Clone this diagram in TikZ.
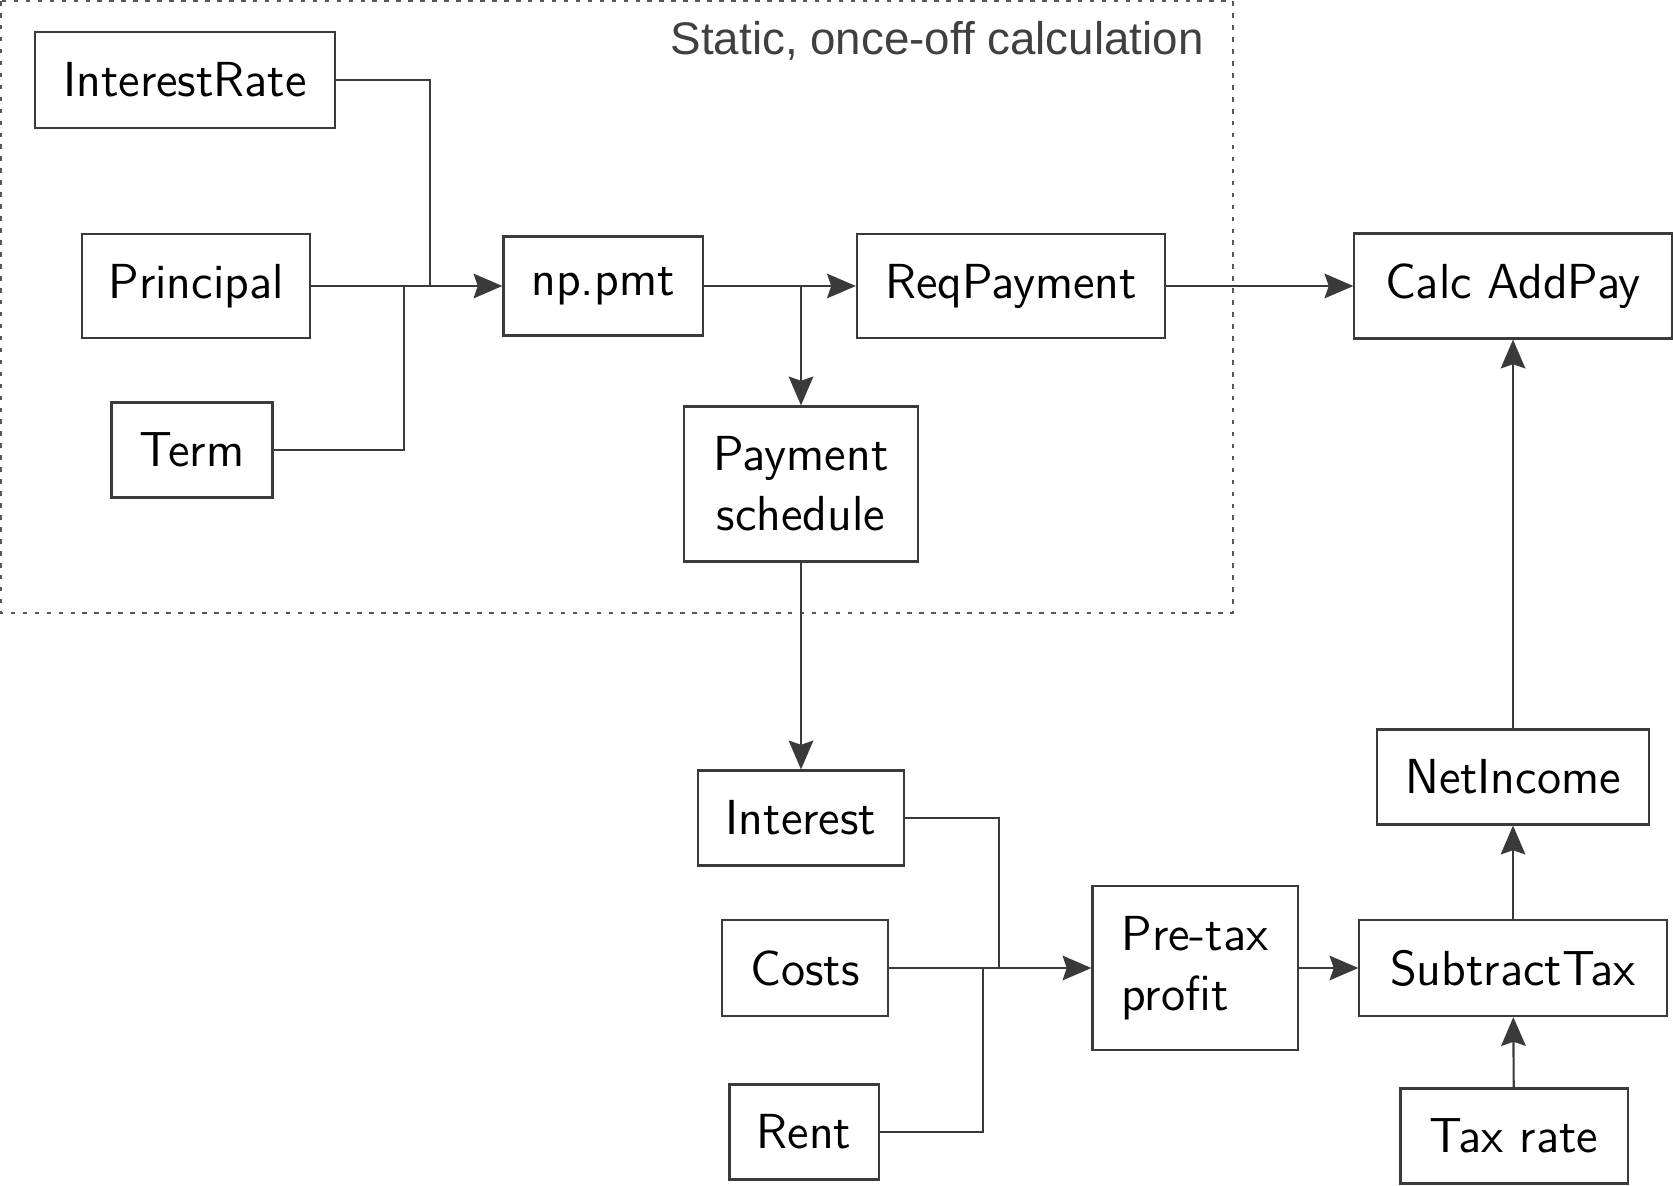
\documentclass[tikz,border=0pt]{standalone}
\usepackage{fontspec}
\usetikzlibrary{arrows.meta,calc}
\newfontfamily\titlefont{Liberation Sans}
\definecolor{linegray}{HTML}{3A3A3A}
\definecolor{titlegray}{HTML}{404040}
\tikzset{
  block/.style={draw=linegray, line width=0.6pt, inner sep=0pt,
    font=\sffamily\fontsize{14}{17}\selectfont},
  conn/.style={draw=linegray, line width=0.6pt},
  arr/.style={conn, -{Stealth[length=8.2pt,width=7pt,inset=1.2pt]}},
}
\begin{document}
\begin{tikzpicture}[x=0.01cm, y=-0.01cm]
  \useasboundingbox (0,0) rectangle (1673,1185);
  \draw[linegray!85, line width=0.7pt, dash pattern=on 1.3pt off 2.1pt]
    (1,1) rectangle (1233,613);
  \node[anchor=base east, text=titlegray, font=\titlefont\fontsize{13}{15}\selectfont]
    (title) at (1216,55) {Static, once-off calculation};

  \node[block, minimum width=3cm,    minimum height=0.96cm] (irate) at (185,80)   {InterestRate};
  \node[block, minimum width=2.28cm, minimum height=1.04cm] (princ) at (196,286)  {Principal};
  \node[block, minimum width=1.61cm, minimum height=0.95cm] (term)  at (192,450)  {Term};
  \node[block, minimum width=1.99cm, minimum height=0.99cm] (pmt)   at (603,286)  {np.pmt};
  \node[block, minimum width=3.08cm, minimum height=1.04cm] (req)   at (1011,286) {ReqPayment};
  \node[block, minimum width=3.17cm, minimum height=1.05cm] (calc)  at (1513,286) {Calc AddPay};
  \node[block, minimum width=2.34cm, minimum height=1.55cm, align=center] (sched) at (801,484) {Payment\\schedule};
  \node[block, minimum width=2.06cm, minimum height=0.95cm] (inter) at (801,818)  {Interest};
  \node[block, minimum width=1.66cm, minimum height=0.96cm] (costs) at (805,968)  {Costs};
  \node[block, minimum width=1.49cm, minimum height=0.95cm] (rent)  at (804,1132) {Rent};
  \node[block, minimum width=2.05cm, minimum height=1.64cm, align=left] (pretax) at (1195,968) {Pre-tax\\profit};
  \node[block, minimum width=3.07cm, minimum height=0.96cm] (subtax) at (1513,968) {SubtractTax};
  \node[block, minimum width=2.72cm, minimum height=0.95cm] (netinc) at (1513,777) {NetIncome};
  \node[block, minimum width=2.27cm, minimum height=0.95cm] (taxrate) at (1514,1136) {Tax rate};

  \coordinate (jrate) at (430,286);
  \coordinate (jterm) at (404,286);
  \coordinate (jint)  at (999,968);
  \coordinate (jrent) at (983,968);

  \draw[conn] (irate.east) -| (jrate);
  \draw[conn] (term.east) -| (jterm);
  \draw[arr] (princ) -- (pmt);
  \draw[arr] (pmt) -- (req);
  \draw[arr] (pmt.east -| sched.north) -- (sched.north);
  \draw[arr] (req) -- (calc);
  \draw[arr] (sched) -- (inter);
  \draw[conn] (inter.east) -| (jint);
  \draw[conn] (rent.east) -| (jrent);
  \draw[arr] (costs) -- (pretax);
  \draw[arr] (pretax) -- (subtax);
  \draw[arr] (taxrate) -- (subtax);
  \draw[arr] (subtax) -- (netinc);
  \draw[arr] (netinc) -- (calc);
\end{tikzpicture}
\end{document}
